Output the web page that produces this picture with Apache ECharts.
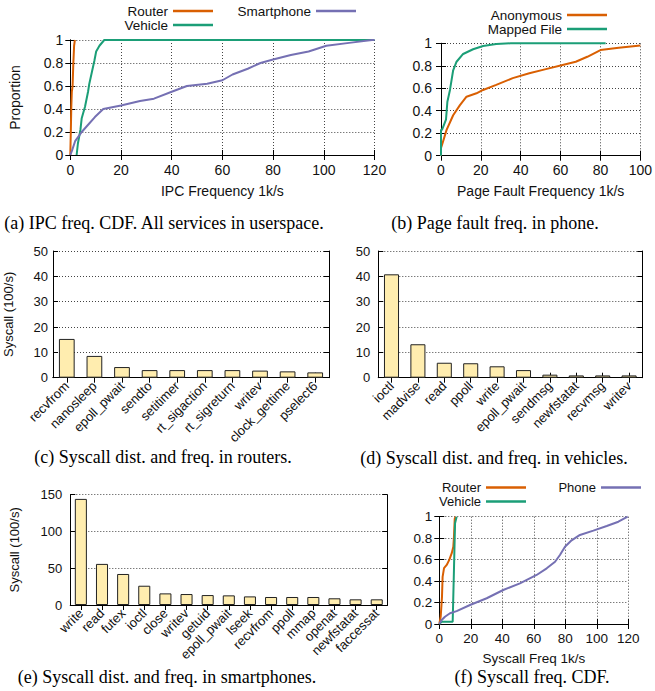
<!DOCTYPE html>
<html><head><meta charset="utf-8">
<script src="https://cdn.jsdelivr.net/npm/echarts@6/dist/echarts.min.js"></script>
<style>html,body{margin:0;padding:0;background:#fff}#c{width:655px;height:691px}</style>
</head><body><div id="c"></div>
<script>
// ---- data ----
const ipcRouter = [[0,0],[0.2,0.2],[0.4,0.42],[0.6,0.55],[0.9,0.6],[1.2,0.8],[1.5,0.95],[1.8,1]];
const ipcVehicle = [[2.5,0],[3,0.1],[4,0.22],[4.5,0.32],[5.8,0.42],[7,0.55],[7.5,0.62],[8.5,0.72],[9.5,0.82],[10.2,0.9],[11.5,0.95],[13.4,1],[120,1]];
const ipcPhone = [[0,0],[0.7,0.04],[1.9,0.12],[4.5,0.2],[6.5,0.25],[9.7,0.33],[13,0.4],[20,0.43],[27.5,0.47],[33,0.49],[40,0.55],[46,0.6],[54,0.62],[60,0.65],[64,0.7],[70,0.75],[75,0.8],[80,0.83],[87,0.87],[94,0.9],[101,0.95],[110,0.975],[119,1],[120,1]];
const pfAnon = [[0,0],[0,0.07],[0.5,0.095],[2.8,0.23],[6.1,0.36],[9.5,0.45],[12.8,0.525],[17.8,0.555],[21.1,0.585],[27.7,0.63],[36,0.69],[44.3,0.733],[52.6,0.77],[61,0.807],[67.6,0.836],[73.4,0.88],[80,0.94],[89.2,0.96],[100,0.98]];
const pfMapped = [[0,0],[0,0.23],[0.5,0.23],[2.5,0.32],[3.2,0.48],[4.5,0.585],[6.1,0.76],[7.8,0.836],[11.1,0.905],[16.1,0.947],[21.1,0.976],[27.7,0.994],[35,1],[82.6,1]];
const sysRouter = [[0,0],[0.9,0.07],[1.7,0.25],[2.1,0.44],[3,0.52],[4.7,0.55],[6.4,0.6],[7.9,0.66],[8.9,0.72],[9.3,0.81],[9.8,0.98],[10.3,1]];
const sysVehicle = [[0,0],[1.5,0.02],[8.5,0.022],[9.3,0.5],[10,0.94],[11,1]];
const sysPhone = [[0,0],[1.5,0.037],[3.6,0.068],[6.8,0.1],[11,0.12],[19.5,0.177],[30.1,0.24],[40.6,0.317],[51.2,0.379],[61.8,0.457],[68.2,0.519],[73.5,0.58],[76.6,0.643],[79.8,0.72],[84,0.78],[89.3,0.83],[97.8,0.87],[106.3,0.913],[113.7,0.953],[119.6,1]];

const routerCalls = ['recvfrom','nanosleep','epoll_pwait','sendto','setitimer','rt_sigaction','rt_sigreturn','writev','clock_gettime','pselect6'];
const routerRates = [15.3,8.6,4.2,3.0,3.0,3.0,3.0,2.8,2.5,2.1];
const vehicleCalls = ['ioctl','madvise','read','ppoll','write','epoll_pwait','sendmsg','newfstatat','recvmsg','writev'];
const vehicleRates = [40.8,13.2,5.9,5.7,4.5,3.0,1.2,0.9,0.9,0.9];
const phoneCalls = ['write','read','futex','ioctl','close','writev','getuid','epoll_pwait','lseek','recvfrom','ppoll','mmap','openat','newfstatat','faccessat'];
const phoneRates = [144.3,55.9,42.2,26.2,15.8,14.9,13.5,13.1,11.7,10.9,10.9,10.9,9.1,7.7,7.7];

const cdfX = [0,120,20];   // min,max,interval
const pfX = [0,100,20];
const cdfY = [0,1,0.2];
const barY = [0,50,10];
const phoneY = [0,150,50];

// ---- styling ----
const ORANGE = '#D95F02', GREEN = '#1B9E77', PURPLE = '#7570B3';
const SANS = 'Liberation Sans, Arial, sans-serif';
const SERIF = 'Liberation Serif, Times New Roman, serif';
const TXT = '#111';

const grids = [
  {left:70.3, top:40, width:304.2, height:115},
  {left:441, top:43.3, width:200.7, height:112.4},
  {left:53, top:251, width:276, height:126.7},
  {left:378.3, top:251, width:264, height:126.7},
  {left:70.3, top:494.7, width:317, height:110.3},
  {left:439.3, top:516.7, width:189, height:107.3}
];

const line = {show:true, lineStyle:{color:'#000', width:1}};
const tick = {show:true, inside:true, length:5, lineStyle:{color:'#000', width:1}};
const grid = (show)=>({show, lineStyle:{color:'#444', width:1, type:[1,2]}});

function valAxis(g, pos, r, fs, opts){
  const main = pos==='bottom' || pos==='left';
  return Object.assign({
    type:'value', gridIndex:g, position:pos, min:r[0], max:r[1], interval:r[2],
    axisLine:line, axisTick:tick,
    axisLabel:{show:main, color:TXT, fontSize:fs, fontFamily:SANS, margin:7},
    splitLine:grid(main)
  }, opts||{});
}
function catAxis(g, pos, data, fs, opts){
  const main = pos==='bottom';
  return Object.assign({
    type:'category', gridIndex:g, position:pos, data:data, boundaryGap:true,
    axisLine:line, axisTick:Object.assign({alignWithLabel:true}, tick),
    axisLabel:{show:main, color:TXT, fontSize:fs, fontFamily:SANS, rotate:45, margin:6, interval:0},
    splitLine:{show:false}
  }, opts||{});
}
const nameStyle = (fs)=>({color:TXT, fontSize:fs, fontFamily:SANS});

const xAxis = [
  valAxis(0,'bottom',cdfX,14,{name:'IPC Frequency 1k/s', nameLocation:'middle', nameGap:29, nameTextStyle:nameStyle(14), axisLabel:{color:TXT,fontSize:14,fontFamily:SANS,margin:8}}),
  valAxis(0,'top',cdfX,14),
  valAxis(1,'bottom',pfX,14,{name:'Page Fault Frequency 1k/s', nameLocation:'middle', nameGap:28, nameTextStyle:nameStyle(14)}),
  valAxis(1,'top',pfX,14),
  catAxis(2,'bottom',routerCalls,13),
  catAxis(2,'top',routerCalls,13),
  catAxis(3,'bottom',vehicleCalls,13),
  catAxis(3,'top',vehicleCalls,13),
  catAxis(4,'bottom',phoneCalls,13),
  catAxis(4,'top',phoneCalls,13),
  valAxis(5,'bottom',cdfX,13.5,{name:'Syscall Freq 1k/s', nameLocation:'middle', nameGap:27, nameTextStyle:nameStyle(13.5)}),
  valAxis(5,'top',cdfX,13.5)
];
const yAxis = [
  valAxis(0,'left',cdfY,14,{name:'Proportion', nameLocation:'middle', nameGap:48, nameTextStyle:nameStyle(14)}),
  valAxis(0,'right',cdfY,14),
  valAxis(1,'left',cdfY,14,{axisLabel:{color:TXT,fontSize:14,fontFamily:SANS,margin:9}}),
  valAxis(1,'right',cdfY,14),
  valAxis(2,'left',barY,13,{name:'Syscall (100/s)', nameLocation:'middle', nameGap:38, nameTextStyle:nameStyle(13), axisLabel:{color:TXT,fontSize:13,fontFamily:SANS,margin:5}}),
  valAxis(2,'right',barY,13),
  valAxis(3,'left',barY,13,{axisLabel:{color:TXT,fontSize:13,fontFamily:SANS,margin:8}}),
  valAxis(3,'right',barY,13),
  valAxis(4,'left',phoneY,13,{name:'Syscall (100/s)', nameLocation:'middle', nameGap:49, nameTextStyle:nameStyle(13), axisLabel:{color:TXT,fontSize:13,fontFamily:SANS,margin:8}}),
  valAxis(4,'right',phoneY,13),
  valAxis(5,'left',cdfY,13.5),
  valAxis(5,'right',cdfY,13.5)
];

function lineSeries(name, data, g, color){
  return {type:'line', name, data, xAxisIndex:2*g, yAxisIndex:2*g, showSymbol:false, symbol:'none',
    clip:false, color, lineStyle:{color, width:2}, silent:true, animation:false};
}
function barSeries(name, data, g){
  return {type:'bar', name, data, xAxisIndex:2*g, yAxisIndex:2*g, barWidth:'57%', silent:true, animation:false,
    itemStyle:{color:'#FFEDAF', borderColor:'#222', borderWidth:1}};
}

const series = [
  lineSeries('Router', ipcRouter, 0, ORANGE),
  lineSeries('Vehicle', ipcVehicle, 0, GREEN),
  lineSeries('Smartphone', ipcPhone, 0, PURPLE),
  lineSeries('Anonymous', pfAnon, 1, ORANGE),
  lineSeries('Mapped File', pfMapped, 1, GREEN),
  barSeries('router', routerRates, 2),
  barSeries('vehicle', vehicleRates, 3),
  barSeries('phone', phoneRates, 4),
  lineSeries('Router', sysRouter, 5, ORANGE),
  lineSeries('Vehicle', sysVehicle, 5, GREEN),
  lineSeries('Phone', sysPhone, 5, PURPLE)
];

function leg(name, right, yc, fs){
  return {data:[name], right, top:yc-7, orient:'horizontal', align:'right', icon:'rect',
    itemWidth:40, itemHeight:2.5, padding:0, selectedMode:false,
    textStyle:{color:TXT, fontSize:fs, fontFamily:SANS, lineHeight:13}};
}
const legend = [
  leg('Router', 442, 11, 13.5), leg('Vehicle', 442, 25, 13.5), leg('Smartphone', 299, 11, 13.5),
  leg('Anonymous', 48, 15, 13.5), leg('Mapped File', 48, 29, 13.5),
  leg('Router', 129, 488, 13), leg('Vehicle', 129, 502, 13), leg('Phone', 14, 488, 13)
];

function cap(text, x, y){
  return {type:'text', x, y, style:{text, fill:'#000', font:'18px '+SERIF, textAlign:'center', textVerticalAlign:'middle'}};
}
const graphic = [
  cap('(a) IPC freq. CDF. All services in userspace.', 164, 223),
  cap('(b) Page fault freq. in phone.', 495, 223),
  cap('(c) Syscall dist. and freq. in routers.', 163, 457),
  cap('(d) Syscall dist. and freq. in vehicles.', 494, 458),
  cap('(e) Syscall dist. and freq. in smartphones.', 167, 677),
  cap('(f) Syscall freq. CDF.', 532, 677)
];

const chart = echarts.init(document.getElementById('c'), null, {renderer:'svg'});
chart.setOption({animation:false, backgroundColor:'#fff', grid:grids, xAxis, yAxis, series, legend, graphic});
</script></body></html>
